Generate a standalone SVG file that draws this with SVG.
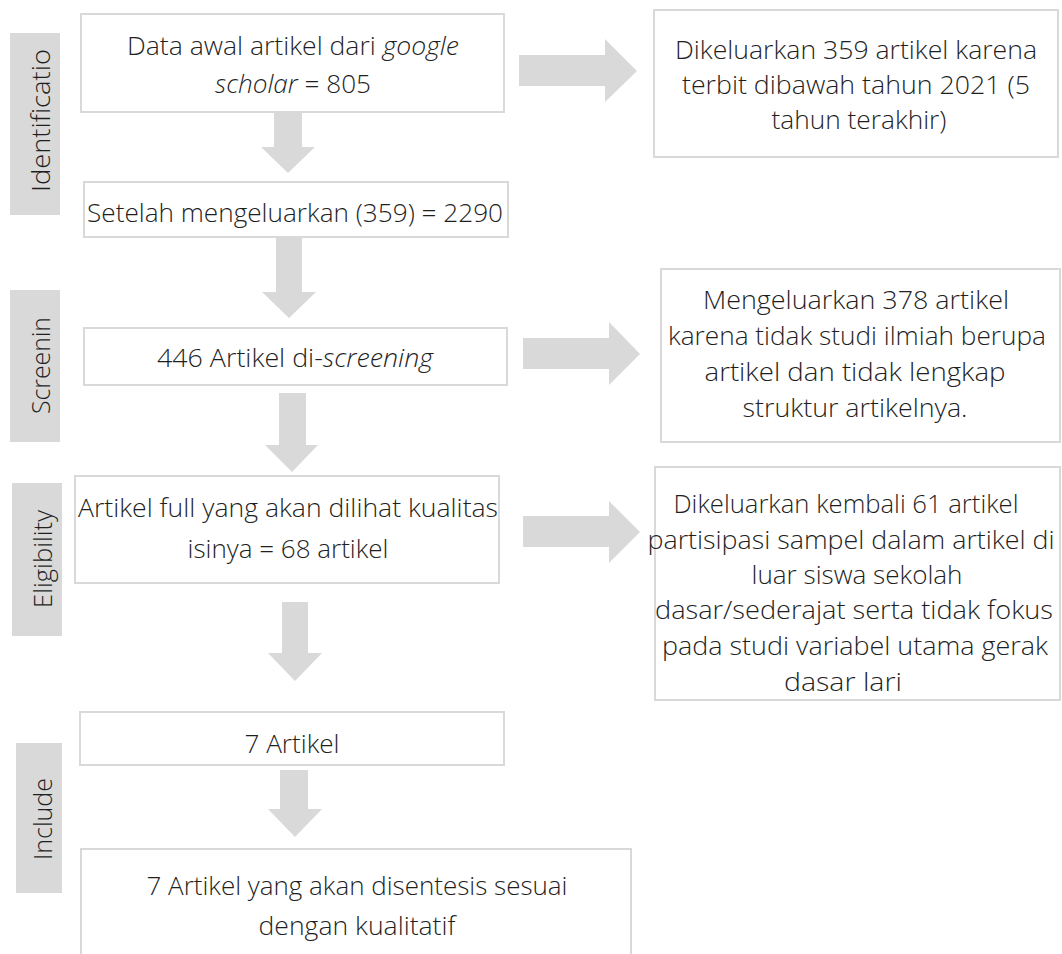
<svg xmlns="http://www.w3.org/2000/svg" width="1062" height="954" viewBox="0 0 1062 954">
<style>
.box{fill:#ffffff;stroke:#d9d9d9;stroke-width:2}
.lbl{fill:#d9d9d9}
.arr{fill:#d9d9d9}
.t{font-family:"Open Sans","Liberation Sans",sans-serif;font-weight:300;font-size:26px;fill:#1f1f1f;text-anchor:middle}
.side{font-family:"Open Sans","Liberation Sans",sans-serif;font-weight:300;font-size:26px;fill:#1f1f1f}
.i{font-style:italic}
</style>
<rect width="1062" height="954" fill="#ffffff"/>

<g id="phase-identification">
<rect class="lbl" x="10" y="33" width="50" height="182"/>
<text class="side" transform="translate(50,192) rotate(-90)" textLength="143" lengthAdjust="spacingAndGlyphs">Identificatio</text>
</g>
<g id="phase-screening">
<rect class="lbl" x="10" y="290" width="50" height="152"/>
<text class="side" transform="translate(50,414) rotate(-90)" textLength="97" lengthAdjust="spacingAndGlyphs">Screenin</text>
</g>
<g id="phase-eligibility">
<rect class="lbl" x="12" y="483" width="50" height="153"/>
<text class="side" transform="translate(52,608) rotate(-90)" textLength="98" lengthAdjust="spacingAndGlyphs">Eligibility</text>
</g>
<g id="phase-include">
<rect class="lbl" x="16" y="743" width="46" height="150"/>
<text class="side" transform="translate(52,860) rotate(-90)" textLength="82" lengthAdjust="spacingAndGlyphs">Include</text>
</g>

<g id="connectors">
<polygon class="arr" points="274,107 302,107 302,147 315,147 288,173 261,147 274,147"/>
<polygon class="arr" points="276,238 302,238 302,292 316,292 289,318 262,292 276,292"/>
<polygon class="arr" points="279,393 306,393 306,445 318,445 292,472 265,445 279,445"/>
<polygon class="arr" points="282,602 308,602 308,653 322,653 295,681 268,653 282,653"/>
<polygon class="arr" points="280,770 308,770 308,809 322,809 295,837 268,809 280,809"/>
<polygon class="arr" points="519,55 605,55 605,39 637,71 605,102 605,86 519,86"/>
<polygon class="arr" points="523,338 609,338 609,322 640,354 609,385 609,369 523,369"/>
<polygon class="arr" points="523,516 609,516 609,501 640,532 609,563 609,547 523,547"/>
</g>

<g id="box-data-awal">
<rect class="box" x="81" y="14" width="423" height="98"/>
<text class="t" x="293" y="55" textLength="332" lengthAdjust="spacingAndGlyphs">Data awal artikel dari <tspan class="i">google</tspan></text>
<text class="t" x="293" y="93" textLength="156" lengthAdjust="spacingAndGlyphs"><tspan class="i">scholar</tspan> = 805</text>
</g>

<g id="box-dikeluarkan-359">
<rect class="box" x="654" y="10" width="404" height="147"/>
<text class="t" x="856" y="59" textLength="362" lengthAdjust="spacingAndGlyphs">Dikeluarkan 359 artikel karena</text>
<text class="t" x="856" y="94" textLength="348" lengthAdjust="spacingAndGlyphs">terbit dibawah tahun 2021 (5</text>
<text class="t" x="859" y="129" textLength="175" lengthAdjust="spacingAndGlyphs">tahun terakhir)</text>
</g>

<g id="box-setelah">
<rect class="box" x="84" y="182" width="424" height="55"/>
<text class="t" x="295" y="222" textLength="416" lengthAdjust="spacingAndGlyphs">Setelah mengeluarkan (359) = 2290</text>
</g>

<g id="box-screening">
<rect class="box" x="84" y="328" width="423" height="57"/>
<text class="t" x="295" y="367" textLength="276" lengthAdjust="spacingAndGlyphs">446 Artikel di-<tspan class="i">screening</tspan></text>
</g>

<g id="box-mengeluarkan-378">
<rect class="box" x="661" y="269" width="399" height="173"/>
<text class="t" x="856" y="309" textLength="306" lengthAdjust="spacingAndGlyphs">Mengeluarkan 378 artikel</text>
<text class="t" x="857" y="345" textLength="378" lengthAdjust="spacingAndGlyphs">karena tidak studi ilmiah berupa</text>
<text class="t" x="855" y="381" textLength="301" lengthAdjust="spacingAndGlyphs">artikel dan tidak lengkap</text>
<text class="t" x="855" y="417" textLength="225" lengthAdjust="spacingAndGlyphs">struktur artikelnya.</text>
</g>

<g id="box-artikel-full">
<rect class="box" x="75" y="476" width="424" height="107"/>
<text class="t" x="288" y="517" textLength="420" lengthAdjust="spacingAndGlyphs">Artikel full yang akan dilihat kualitas</text>
<text class="t" x="288" y="558" textLength="201" lengthAdjust="spacingAndGlyphs">isinya = 68 artikel</text>
</g>

<g id="box-dikeluarkan-61">
<rect class="box" x="655" y="467" width="405" height="233"/>
<text class="t" x="846" y="513" textLength="345" lengthAdjust="spacingAndGlyphs">Dikeluarkan kembali 61 artikel</text>
<text class="t" x="851" y="549" textLength="407" lengthAdjust="spacingAndGlyphs">partisipasi sampel dalam artikel di</text>
<text class="t" x="857" y="584" textLength="211" lengthAdjust="spacingAndGlyphs">luar siswa sekolah</text>
<text class="t" x="854" y="619" textLength="398" lengthAdjust="spacingAndGlyphs">dasar/sederajat serta tidak fokus</text>
<text class="t" x="855" y="655" textLength="386" lengthAdjust="spacingAndGlyphs">pada studi variabel utama gerak</text>
<text class="t" x="843" y="691" textLength="118" lengthAdjust="spacingAndGlyphs">dasar lari</text>
</g>

<g id="box-7-artikel">
<rect class="box" x="80" y="712" width="424" height="53"/>
<text class="t" x="292" y="753" textLength="95" lengthAdjust="spacingAndGlyphs">7 Artikel</text>
</g>

<g id="box-disentesis">
<rect x="81" y="849" width="550" height="110" fill="#ffffff"/>
<path d="M81,956 V849 H631 V956" fill="none" stroke="#d9d9d9" stroke-width="2"/>
<text class="t" x="357" y="895" textLength="421" lengthAdjust="spacingAndGlyphs">7 Artikel yang akan disentesis sesuai</text>
<text class="t" x="357" y="935" textLength="197" lengthAdjust="spacingAndGlyphs">dengan kualitatif</text>
</g>
</svg>
